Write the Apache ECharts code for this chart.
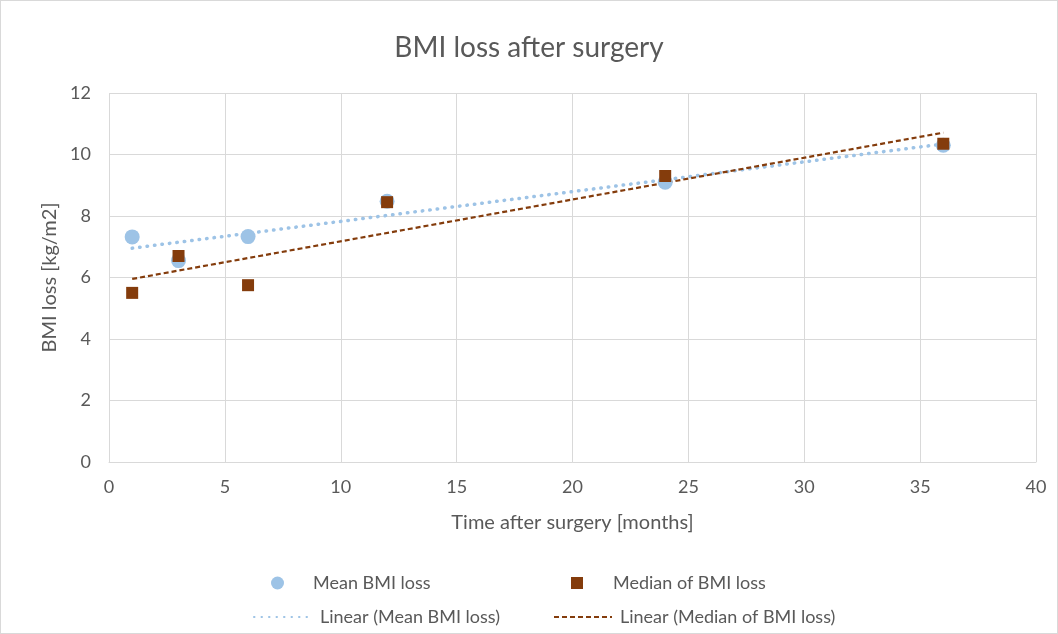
<!DOCTYPE html>
<html>
<head>
<meta charset="utf-8">
<script src="https://cdn.jsdelivr.net/npm/echarts@6/dist/echarts.min.js"></script>
<style>
html,body{margin:0;padding:0;background:#fff;}
#c{position:absolute;left:0;top:0;width:1056px;height:632px;border:1px solid #d9d9d9;}
</style>
</head>
<body>
<div id="c"></div>
<script>
const months = [1, 3, 6, 12, 24, 36];
const meanLoss = [7.32, 6.55, 7.33, 8.48, 9.1, 10.3];
const medianLoss = [5.5, 6.7, 5.75, 8.45, 9.3, 10.35];
const xTicks = [0, 5, 10, 15, 20, 25, 30, 35, 40];
const yTicks = [0, 2, 4, 6, 8, 10, 12];

function linFit(xs, ys) {
  const n = xs.length;
  const mx = xs.reduce((a, b) => a + b, 0) / n;
  const my = ys.reduce((a, b) => a + b, 0) / n;
  let sxy = 0, sxx = 0;
  for (let i = 0; i < n; i++) { sxy += (xs[i] - mx) * (ys[i] - my); sxx += (xs[i] - mx) ** 2; }
  const b = sxy / sxx, a = my - b * mx;
  const x0 = Math.min(...xs), x1 = Math.max(...xs);
  return [[x0, a + b * x0], [x1, a + b * x1]];
}

const TXT = '#595959';
const FONT = 'Lato';
const chart = echarts.init(document.getElementById('c'));
const legendBase = (name, left, top, w, h, pad, extra) => Object.assign({
  data: [name], left: left, top: top, itemWidth: w, itemHeight: h, itemGap: 0,
  textStyle: { color: TXT, fontSize: 18, fontFamily: FONT, padding: [0, 0, 0, pad] },
  selectedMode: false
}, extra || {});
const hideSym = { itemStyle: { opacity: 0, color: 'rgba(0,0,0,0)', borderWidth: 0 } };
chart.setOption({
  animation: false,
  textStyle: { fontFamily: FONT },
  title: {
    text: 'BMI loss after surgery', left: 'center', top: 28,
    textStyle: { color: TXT, fontSize: 28, fontWeight: 'normal', fontFamily: FONT }
  },
  legend: [
    legendBase('Mean BMI loss', 265, 568, 13, 13, 24),
    legendBase('Median of BMI loss', 565, 568, 12, 12, 25),
    legendBase('Linear (Mean BMI loss)', 247, 602, 58, 12, 3, hideSym),
    legendBase('Linear (Median of BMI loss)', 547, 602, 58, 12, 3, hideSym)
  ],
  grid: { left: 108, right: 21, top: 92, bottom: 171 },
  xAxis: {
    type: 'value', min: xTicks[0], max: xTicks[xTicks.length - 1], interval: 5,
    name: 'Time after surgery [months]', nameLocation: 'middle', nameGap: 51,
    nameTextStyle: { color: TXT, fontSize: 20, fontFamily: FONT },
    axisLine: { show: true, lineStyle: { color: '#d9d9d9' } },
    axisTick: { show: false },
    axisLabel: { color: TXT, fontSize: 18, margin: 16, fontFamily: FONT },
    splitLine: { show: true, lineStyle: { color: '#d9d9d9', width: 1 } }
  },
  yAxis: {
    type: 'value', min: yTicks[0], max: yTicks[yTicks.length - 1], interval: 2,
    name: 'BMI loss [kg/m2]', nameLocation: 'middle', nameGap: 47,
    nameTextStyle: { color: TXT, fontSize: 20, fontFamily: FONT },
    axisLine: { show: false },
    axisTick: { show: false },
    axisLabel: { color: TXT, fontSize: 18, margin: 18, fontFamily: FONT },
    splitLine: { show: true, lineStyle: { color: '#d9d9d9', width: 1 } }
  },
  series: [
    {
      name: 'Linear (Mean BMI loss)', type: 'line', data: linFit(months, meanLoss),
      symbol: 'none', z: 1,
      lineStyle: { color: '#9dc3e6', width: 3.5, type: [0.5, 7], cap: 'round' },
      itemStyle: { color: '#9dc3e6' }
    },
    {
      name: 'Linear (Median of BMI loss)', type: 'line', data: linFit(months, medianLoss),
      symbol: 'none', z: 1,
      lineStyle: { color: '#843c0c', width: 2.2, type: [5, 3] },
      itemStyle: { color: '#843c0c' }
    },
    {
      name: 'Mean BMI loss', type: 'scatter', z: 2,
      data: months.map((m, i) => [m, meanLoss[i]]),
      symbol: 'circle', symbolSize: 15,
      itemStyle: { color: '#9dc3e6', opacity: 1 }
    },
    {
      name: 'Median of BMI loss', type: 'scatter', z: 3,
      data: months.map((m, i) => [m, medianLoss[i]]),
      symbol: 'rect', symbolSize: 12,
      itemStyle: { color: '#843c0c', opacity: 1 }
    }
  ]
});
</script>
</body>
</html>
